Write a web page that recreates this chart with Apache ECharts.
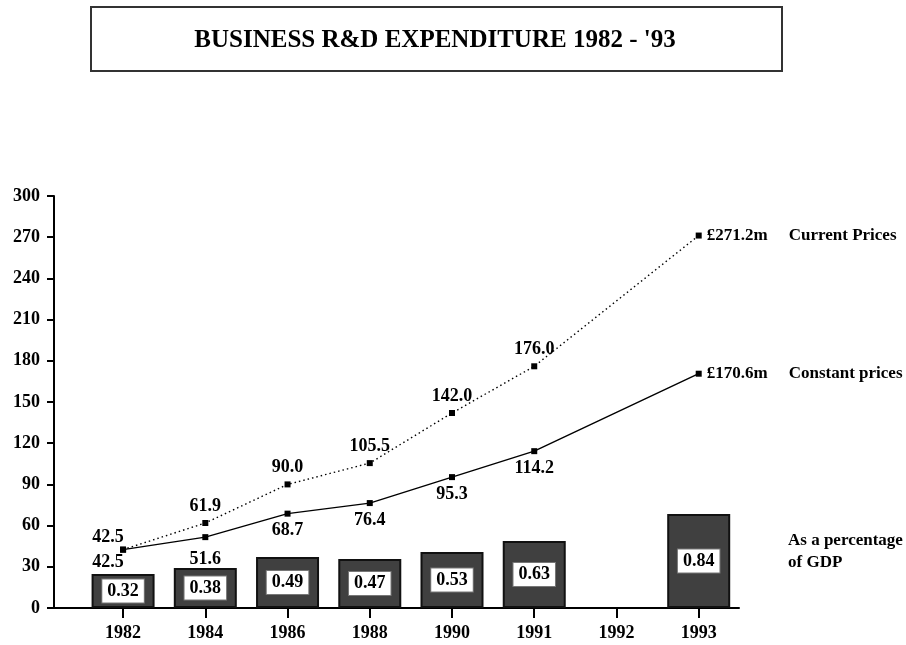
<!DOCTYPE html>
<html>
<head>
<meta charset="utf-8">
<title>Business R&D expenditure 1982 - '93</title>
<script src="https://cdn.jsdelivr.net/npm/echarts@6/dist/echarts.min.js"></script>
<style>
  html, body { margin: 0; padding: 0; background: #fff; }
  #chart { width: 906px; height: 645px; }
</style>
</head>
<body>
<div id="chart"></div>
<script>
// data
var years = ['1982', '1984', '1986', '1988', '1990', '1991', '1992', '1993'];
var currentPrices = [42.5, 61.9, 90.0, 105.5, 142.0, 176.0, null, 271.2];
var constantPrices = [42.5, 51.6, 68.7, 76.4, 95.3, 114.2, null, 170.6];
// bars: % of GDP (label) and drawn height on the left axis
var gdpShare = ['0.32', '0.38', '0.49', '0.47', '0.53', '0.63', null, '0.84'];
var gdpBarHeight = [24.8, 29.1, 37.1, 35.7, 40.8, 48.8, null, 68.5];
var yTicks = [0, 30, 60, 90, 120, 150, 180, 210, 240, 270, 300];

var FONT = '"Liberation Serif", "DejaVu Serif", serif';
var last = years.length - 1;
var idx = years.map(function (y, i) { return i; });

function pts(values) {
  return values.map(function (v, i) { return v == null ? [i, '-'] : [i, v]; });
}

var chart = echarts.init(document.getElementById('chart'));

var currentData = pts(currentPrices).map(function (p, i) {
  var item = { value: p };
  if (i === 0) item.label = { distance: 0, offset: [-15, 0] };
  if (i === last) {
    item.label = {
      position: 'right', distance: 5,
      formatter: '{a|£' + currentPrices[i].toFixed(1) + 'm}{b|Current Prices}',
      rich: {
        a: { fontFamily: FONT, fontWeight: 'bold', fontSize: 17, width: 82, color: '#000' },
        b: { fontFamily: FONT, fontWeight: 'bold', fontSize: 17, color: '#000' }
      }
    };
  }
  return item;
});

var constantData = pts(constantPrices).map(function (p, i) {
  var item = { value: p };
  if (i === 0) item.label = { distance: 1, offset: [-15, 0] };
  if (i === 1) item.label = { distance: 10 };
  if (i === last) {
    item.label = {
      position: 'right', distance: 5,
      formatter: '{a|£' + constantPrices[i].toFixed(1) + 'm}{b|Constant prices}',
      rich: {
        a: { fontFamily: FONT, fontWeight: 'bold', fontSize: 17, width: 82, color: '#000' },
        b: { fontFamily: FONT, fontWeight: 'bold', fontSize: 17, color: '#000' }
      }
    };
  }
  return item;
});

chart.setOption({
  animation: false,
  backgroundColor: '#fff',
  textStyle: { fontFamily: FONT },
  graphic: [
    {
      type: 'rect',
      shape: { x: 91, y: 7, width: 691, height: 64 },
      style: { fill: '#fff', stroke: '#333', lineWidth: 2 }
    },
    {
      type: 'text',
      x: 435, y: 41,
      style: {
        text: "BUSINESS R&D EXPENDITURE 1982 - '93",
        font: 'bold 25px ' + FONT,
        fill: '#000',
        align: 'center',
        verticalAlign: 'middle'
      }
    },
    {
      type: 'text',
      x: 788, y: 530,
      style: {
        text: 'As a percentage\nof GDP',
        font: 'bold 17px ' + FONT,
        lineHeight: 22,
        fill: '#000'
      }
    }
  ],
  grid: { left: 54, right: 167, top: 196, bottom: 37 },
  xAxis: {
    type: 'value',
    min: -0.84,
    max: 7.49,
    splitLine: { show: false },
    axisLine: { show: true, onZero: false, lineStyle: { color: '#000', width: 2 } },
    axisTick: {
      show: true, length: 10, inside: false, customValues: idx,
      lineStyle: { color: '#000', width: 2 }
    },
    axisLabel: {
      customValues: idx,
      margin: 16,
      color: '#000',
      fontFamily: FONT,
      fontWeight: 'bold',
      fontSize: 18,
      formatter: function (v) { return years[Math.round(v)]; }
    }
  },
  yAxis: {
    type: 'value',
    min: 0,
    max: 300,
    interval: 30,
    splitLine: { show: false },
    axisLine: { show: true, onZero: false, lineStyle: { color: '#000', width: 2 } },
    axisTick: { show: true, length: 7, lineStyle: { color: '#000', width: 2 } },
    axisLabel: {
      margin: 14,
      color: '#000',
      fontFamily: FONT,
      fontWeight: 'bold',
      fontSize: 18,
      customValues: yTicks
    }
  },
  series: [
    {
      name: 'As a percentage of GDP',
      type: 'bar',
      barWidth: 63,
      data: pts(gdpBarHeight),
      itemStyle: { color: '#404040', borderColor: '#111', borderWidth: 2 },
      label: {
        show: true,
        position: 'inside',
        formatter: function (p) { return gdpShare[p.dataIndex]; },
        backgroundColor: '#fff',
        borderColor: '#777',
        borderWidth: 1,
        padding: [3, 5, 2, 5],
        color: '#000',
        fontFamily: FONT,
        fontWeight: 'bold',
        fontSize: 18
      },
      z: 1
    },
    {
      name: 'Current Prices',
      type: 'line',
      data: currentData,
      connectNulls: true,
      symbol: 'rect',
      symbolSize: 6,
      itemStyle: { color: '#000' },
      lineStyle: { color: '#000', width: 1.4, type: [1.5, 3] },
      label: {
        show: true,
        position: 'top',
        distance: 5,
        color: '#000',
        fontFamily: FONT,
        fontWeight: 'bold',
        fontSize: 18,
        formatter: function (p) { return p.value[1].toFixed(1); }
      },
      z: 3
    },
    {
      name: 'Constant prices',
      type: 'line',
      data: constantData,
      connectNulls: true,
      symbol: 'rect',
      symbolSize: 6,
      itemStyle: { color: '#000' },
      lineStyle: { color: '#000', width: 1.4 },
      label: {
        show: true,
        position: 'bottom',
        distance: 5,
        color: '#000',
        fontFamily: FONT,
        fontWeight: 'bold',
        fontSize: 18,
        formatter: function (p) { return p.value[1].toFixed(1); }
      },
      z: 3
    }
  ]
});
</script>
</body>
</html>
